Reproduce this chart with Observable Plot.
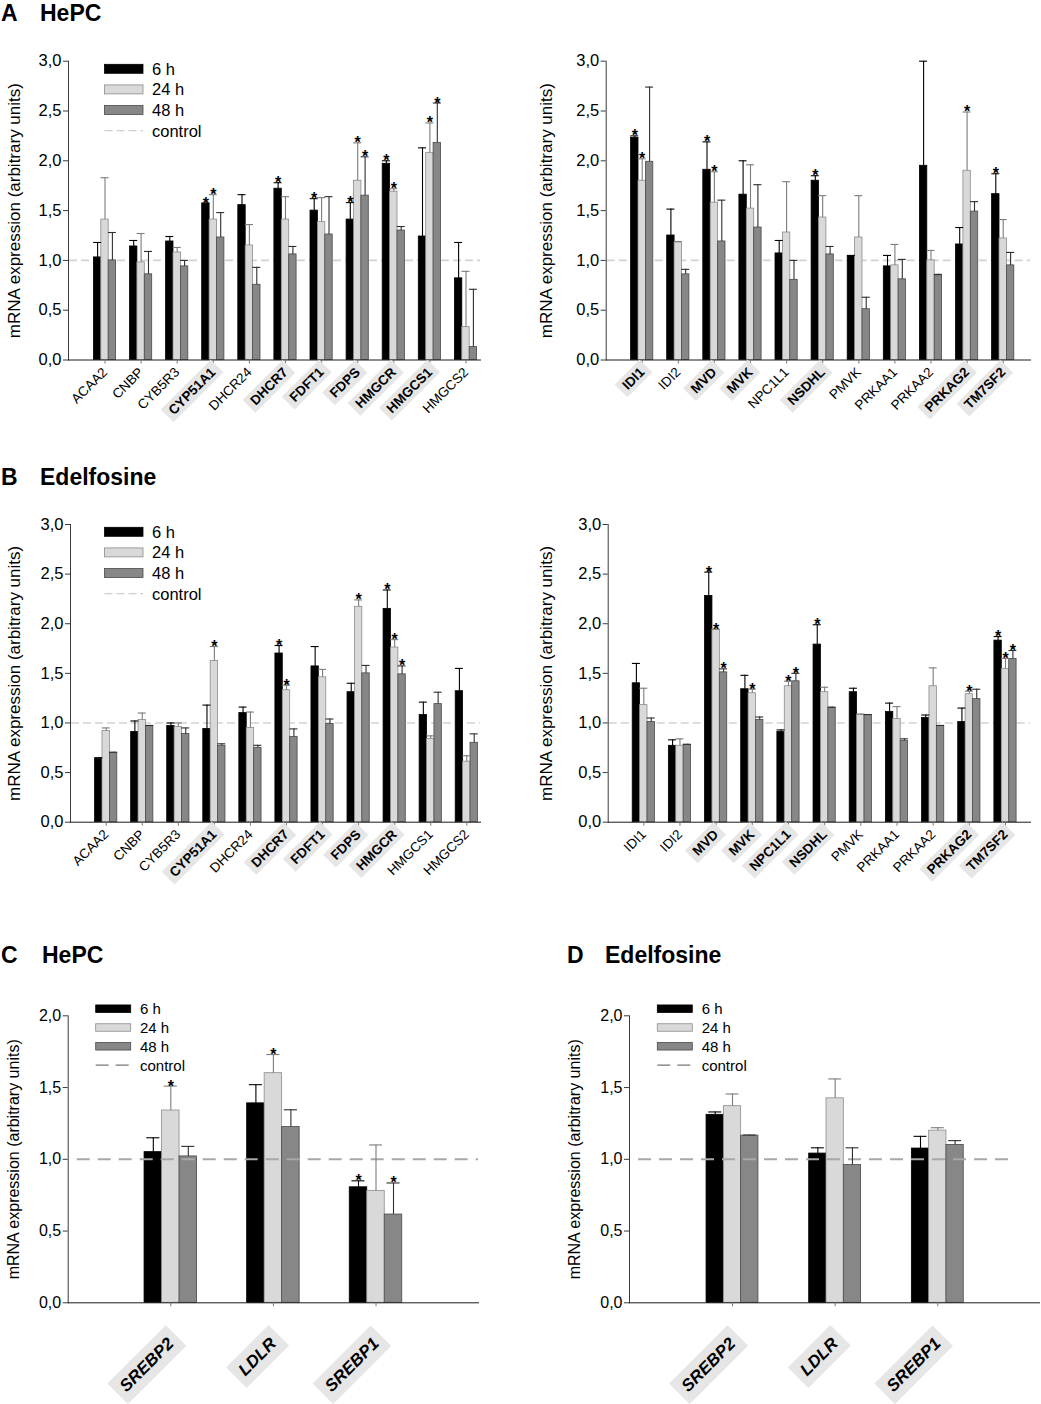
<!DOCTYPE html>
<html><head><meta charset="utf-8">
<script src="https://cdn.jsdelivr.net/npm/d3@7"></script>
<script src="https://cdn.jsdelivr.net/npm/@observablehq/plot@0.6"></script>
<style>
body{margin:0;background:#fff;font-family:"Liberation Sans",Arial,sans-serif}
#page{position:relative;width:1041px;height:1404px;overflow:hidden;background:#fff}
.ttl{position:absolute;font-weight:bold;font-size:23px;line-height:23px;white-space:nowrap;color:#000}
.pn{position:absolute}
</style></head><body><div id="page"></div>
<script>
// ---------- categories ----------
const genesSterolL = ["ACAA2","CNBP","CYB5R3","CYP51A1","DHCR24","DHCR7","FDFT1","FDPS","HMGCR","HMGCS1","HMGCS2"];
const genesSterolR = ["IDI1","IDI2","MVD","MVK","NPC1L1","NSDHL","PMVK","PRKAA1","PRKAA2","PRKAG2","TM7SF2"];
const genesSrebp = ["SREBP2","LDLR","SREBP1"];
const times = ["6 h","24 h","48 h"];

// highlighted (bold, boxed) gene labels
const boldAL = ["CYP51A1","DHCR7","FDFT1","FDPS","HMGCR","HMGCS1"];
const boldAR = ["IDI1","MVD","MVK","NSDHL","PRKAG2","TM7SF2"];
const boldBL = ["CYP51A1","DHCR7","FDFT1","FDPS","HMGCR"];
const boldBR = ["MVD","MVK","NPC1L1","NSDHL","PRKAG2","TM7SF2"];
const boldC = ["SREBP2","LDLR","SREBP1"];
const boldD = ["SREBP2","LDLR","SREBP1"];

// ---------- A left: HePC ----------
const AL_6h     = [1.03,1.14,1.19,1.57,1.555,1.72,1.50,1.41,1.97,1.24,0.82];
const AL_6h_sd  = [0.15,0.06,0.05,0.005,0.105,0.06,0.12,0.17,0.03,0.89,0.36];
const AL_24h    = [1.41,0.98,1.08,1.41,1.15,1.41,1.385,1.80,1.69,2.08,0.33];
const AL_24h_sd = [0.42,0.29,0.05,0.25,0.21,0.23,0.245,0.38,0.03,0.30,0.56];
const AL_48h    = [1.00,0.86,0.94,1.23,0.755,1.06,1.26,1.65,1.30,2.18,0.13];
const AL_48h_sd = [0.28,0.23,0.06,0.25,0.175,0.08,0.38,0.39,0.04,0.40,0.58];
const AL_sig6 = ["CYP51A1","DHCR7","FDFT1","FDPS","HMGCR"];
const AL_sig24 = ["CYP51A1","FDPS","HMGCR","HMGCS1"];
const AL_sig48 = ["FDPS","HMGCS1"];

// ---------- A right: HePC ----------
const AR_6h     = [2.23,1.25,1.91,1.66,1.07,1.80,1.04,0.94,1.95,1.16,1.665];
const AR_6h_sd  = [0.02,0.265,0.28,0.34,0.13,0.05,0.01,0.11,1.05,0.17,0.205];
const AR_24h    = [1.80,1.18,1.58,1.52,1.28,1.43,1.23,0.95,1.00,1.90,1.22];
const AR_24h_sd = [0.22,0.01,0.31,0.44,0.51,0.22,0.42,0.21,0.10,0.59,0.19];
const AR_48h    = [1.99,0.86,1.19,1.33,0.805,1.06,0.51,0.81,0.85,1.49,0.95];
const AR_48h_sd = [0.75,0.05,0.415,0.43,0.195,0.08,0.12,0.20,0.01,0.10,0.13];
const AR_sig6 = ["IDI1","MVD","NSDHL","TM7SF2"];
const AR_sig24 = ["IDI1","MVD","PRKAG2"];
const AR_sig48 = [];

// ---------- B left: Edelfosine ----------
const BL_6h     = [0.64,0.91,0.97,0.94,1.10,1.70,1.57,1.31,2.15,1.08,1.32];
const BL_6h_sd  = [0.01,0.11,0.03,0.24,0.06,0.08,0.20,0.09,0.19,0.13,0.23];
const BL_24h    = [0.92,1.03,0.96,1.625,0.95,1.33,1.46,2.17,1.76,0.84,0.61];
const BL_24h_sd = [0.03,0.07,0.04,0.145,0.16,0.05,0.08,0.07,0.08,0.03,0.06];
const BL_48h    = [0.70,0.97,0.89,0.77,0.75,0.86,0.99,1.50,1.49,1.19,0.80];
const BL_48h_sd = [0.005,0.005,0.06,0.02,0.025,0.08,0.05,0.08,0.085,0.12,0.09];
const BL_sig6 = ["DHCR7","HMGCR"];
const BL_sig24 = ["CYP51A1","DHCR7","FDPS","HMGCR"];
const BL_sig48 = ["HMGCR"];

// ---------- B right: Edelfosine ----------
const BR_6h     = [1.40,0.77,2.28,1.34,0.91,1.79,1.31,1.11,1.05,1.01,1.83];
const BR_6h_sd  = [0.20,0.06,0.24,0.14,0.02,0.20,0.04,0.09,0.03,0.14,0.04];
const BR_24h    = [1.18,0.77,1.94,1.30,1.37,1.31,1.08,1.04,1.37,1.29,1.545];
const BR_24h_sd = [0.17,0.07,0.005,0.04,0.05,0.05,0.01,0.125,0.185,0.03,0.105];
const BR_48h    = [1.01,0.78,1.51,1.03,1.42,1.15,1.08,0.82,0.97,1.24,1.645];
const BR_48h_sd = [0.04,0.005,0.035,0.03,0.08,0.01,0.005,0.02,0.005,0.10,0.085];
const BR_sig6 = ["MVD","NSDHL","TM7SF2"];
const BR_sig24 = ["MVD","MVK","NPC1L1","PRKAG2","TM7SF2"];
const BR_sig48 = ["MVD","NPC1L1","TM7SF2"];

// ---------- C: HePC ----------
const C_6h     = [1.05,1.39,0.805];
const C_6h_sd  = [0.10,0.13,0.045];
const C_24h    = [1.34,1.60,0.78];
const C_24h_sd = [0.17,0.13,0.32];
const C_48h    = [1.02,1.225,0.615];
const C_48h_sd = [0.07,0.12,0.22];
const C_sig6 = ["SREBP1"];
const C_sig24 = ["SREBP2","LDLR"];
const C_sig48 = ["SREBP1"];

// ---------- D: Edelfosine ----------
const D_6h     = [1.31,1.04,1.075];
const D_6h_sd  = [0.02,0.04,0.085];
const D_24h    = [1.37,1.425,1.20];
const D_24h_sd = [0.085,0.135,0.02];
const D_48h    = [1.165,0.96,1.10];
const D_48h_sd = [0.004,0.12,0.03];
const D_sig6 = [], D_sig24 = [], D_sig48 = [];

const ticks3 = [0,0.5,1,1.5,2,2.5,3];
const ticks2 = [0,0.5,1,1.5,2];
const yLabel = "mRNA expression (arbitrary units)";

// ---------- styles ----------
const FILL = ["#000000","#d9d9d9","#878787"];
const STROKE = ["#000000","#8c8c8c","#4a4a4a"];
const ERR = ["#000000","#7c7c7c","#2e2e2e"];
const FONT = "Liberation Sans, Arial, sans-serif";
const fmt = d => d.toFixed(1).replace(".", ",");
const page = document.getElementById("page");

function panel(cfg) {
  const {genes, bold, vals, sds, sigs, yMax, yTicks, left, top, width, height,
         mL, mT, mB, mR, c0, step, bw, big} = cfg;
  const rows = [];
  times.forEach((t, k) => genes.forEach((g, i) =>
    rows.push({gene: g, time: t, k, v: vals[k][i], sd: sds[k][i], sig: sigs[k].includes(g)})));
  const r0 = c0 - step / 2 - bw / 2;
  const r1 = r0 + step * genes.length + bw;
  const normal = genes.filter(g => !bold.includes(g));
  const ctrl = Plot.ruleY([1], big
    ? {stroke: "#a8a8a8", strokeWidth: 2, strokeDasharray: "13,8", insetLeft: 9, insetRight: cfg.ctrlInsetR || 0}
    : {stroke: "#d2d2d2", strokeWidth: 1.6, strokeDasharray: "8,4", insetLeft: 1});
  const marks = [];
  if (!big) marks.push(ctrl);
  times.forEach((t, k) => {
    const d = rows.filter(r => r.time === t);
    marks.push(Plot.barY(d, {x: "gene", y: "v", fill: FILL[k], stroke: STROKE[k], strokeWidth: 0.8, dx: (k - 1) * bw}));
  });
  if (big) marks.push(ctrl);
  const capIn = big ? 2.2 : -0.3;
  times.forEach((t, k) => {
    const d = rows.filter(r => r.time === t);
    const dx = (k - 1) * bw;
    marks.push(Plot.ruleX(d, {x: "gene", y1: "v", y2: r => r.v + r.sd, stroke: ERR[k], strokeWidth: 1.1, dx}));
    marks.push(Plot.tickY(d, {x: "gene", y: r => r.v + r.sd, stroke: ERR[k], strokeWidth: 1.1, dx, insetLeft: capIn, insetRight: capIn}));
    marks.push(Plot.text(d.filter(r => r.sig), {x: "gene", y: r => r.v + r.sd, text: () => "*", dx, dy: 5.5,
      lineAnchor: "bottom", fontSize: 16, fontWeight: "bold", fill: "#000"}));
  });
  marks.push(Plot.frame({anchor: "left", stroke: "#3a3a3a"}));
  marks.push(Plot.frame({anchor: "bottom", stroke: "#1a1a1a"}));
  marks.push(Plot.axisY({ticks: yTicks, tickFormat: fmt, tickSize: 5, tickPadding: 2, fontSize: cfg.yfs,
    stroke: "#3a3a3a", label: null}));
  marks.push(Plot.axisY({ticks: [], fontSize: cfg.lfs, label: yLabel, labelAnchor: "center", labelArrow: "none",
    labelOffset: cfg.labelOffset}));
  const xo = {tickRotate: -45, tickSize: 4, tickPadding: big ? 34 : 6, fontSize: big ? 17 : 13.5, stroke: "#777", label: null, fill: "#000"};
  if (normal.length) marks.push(Plot.axisX({...xo, ticks: normal}));
  marks.push(Plot.axisX({...xo, ticks: bold, fontWeight: "bold", ...(big ? {fontStyle: "italic"} : {})}));

  const svg = Plot.plot({
    width, height, marginLeft: mL, marginRight: mR, marginTop: mT, marginBottom: mB,
    style: {fontFamily: FONT, background: "transparent", overflow: "visible", color: "#000"},
    x: {type: "band", domain: genes, range: [r0, r1], paddingInner: 1 - bw / step, paddingOuter: 0.5, align: 0.5, round: false},
    y: {domain: [0, yMax]},
    marks
  });
  const div = document.createElement("div");
  div.className = "pn";
  div.style.left = left + "px"; div.style.top = top + "px";
  div.appendChild(svg);
  page.appendChild(div);

  // grey boxes behind highlighted labels
  d3.select(svg).selectAll('g[aria-label="x-axis tick label"]').each(function () {
    if (this.getAttribute("font-weight") !== "bold") return;
    const g = this;
    const texts = Array.from(g.querySelectorAll("text"));
    texts.forEach(t => {
      const b = t.getBBox();
      const padX = big ? 7 : 5, padY = big ? 5 : 1.5;
      const r = document.createElementNS("http://www.w3.org/2000/svg", "rect");
      r.setAttribute("x", b.x - padX); r.setAttribute("y", b.y - padY);
      r.setAttribute("width", b.width + 2 * padX); r.setAttribute("height", b.height + 2 * padY);
      if (t.getAttribute("transform")) r.setAttribute("transform", t.getAttribute("transform"));
      r.setAttribute("fill", "#e6e6e6"); r.setAttribute("stroke", "none");
      g.insertBefore(r, g.firstChild);
    });
  });

  // legend
  if (cfg.legend) {
    const L = cfg.legend;
    const lg = d3.select(svg).append("g").attr("font-family", FONT).attr("font-size", L.fs)
      .attr("text-anchor", "start").attr("fill", "#000");
    times.forEach((t, k) => {
      const cy = L.y0 + k * L.dy;
      lg.append("rect").attr("x", L.x).attr("y", cy - L.h / 2).attr("width", L.w).attr("height", L.h)
        .attr("fill", FILL[k]).attr("stroke", STROKE[k]).attr("stroke-width", 0.8);
      lg.append("text").attr("x", L.tx).attr("y", cy).attr("dy", "0.36em").text(t);
    });
    const cy = L.y0 + 3 * L.dy;
    lg.append("line").attr("x1", L.x).attr("x2", L.x + L.w).attr("y1", cy).attr("y2", cy)
      .attr("stroke", L.dashColor).attr("stroke-width", L.dashW).attr("stroke-dasharray", L.dash);
    lg.append("text").attr("x", L.tx).attr("y", cy).attr("dy", "0.36em").text("control");
  }
}

function title(letter, name, x1, x2, y) {
  const a = document.createElement("div"); a.className = "ttl"; a.style.left = x1 + "px"; a.style.top = y + "px"; a.textContent = letter;
  const b = document.createElement("div"); b.className = "ttl"; b.style.left = x2 + "px"; b.style.top = y + "px"; b.textContent = name;
  page.appendChild(a); page.appendChild(b);
}

title("A", "HePC", 1, 40, 1.5);
title("B", "Edelfosine", 1, 40, 465.5);
title("C", "HePC", 1, 42, 943.5);
title("D", "Edelfosine", 567, 605, 943.5);

const legAB = (y0) => ({x: 104.5, w: 38.5, h: 9, y0, dy: 20.6, tx: 152, fs: 16.5, dashColor: "#cfcfcf", dashW: 1.3, dash: "8,4"});
const legCD = (x, tx) => ({x, w: 35, h: 7.5, y0: 18.7, dy: 18.8, tx, fs: 15, dashColor: "#555", dashW: 1, dash: "13,7"});

panel({genes: genesSterolL, bold: boldAL, vals: [AL_6h, AL_24h, AL_48h], sds: [AL_6h_sd, AL_24h_sd, AL_48h_sd],
  sigs: [AL_sig6, AL_sig24, AL_sig48], yMax: 3, yTicks: ticks3, left: 0, top: 40, width: 490, height: 400,
  mL: 68, mT: 20.7, mB: 80.5, mR: 10, c0: 104.5, step: 36.1, bw: 7.4, labelOffset: 61, yfs: 16.5, lfs: 17, legend: legAB(28.8)});
panel({genes: genesSterolR, bold: boldAR, vals: [AR_6h, AR_24h, AR_48h], sds: [AR_6h_sd, AR_24h_sd, AR_48h_sd],
  sigs: [AR_sig6, AR_sig24, AR_sig48], yMax: 3, yTicks: ticks3, left: 530, top: 40, width: 511, height: 400,
  mL: 75.7, mT: 20.7, mB: 80.5, mR: 11, c0: 111.7, step: 36.1, bw: 7.4, labelOffset: 66, yfs: 16.5, lfs: 17});
panel({genes: genesSterolL, bold: boldBL, vals: [BL_6h, BL_24h, BL_48h], sds: [BL_6h_sd, BL_24h_sd, BL_48h_sd],
  sigs: [BL_sig6, BL_sig24, BL_sig48], yMax: 3, yTicks: ticks3, left: 0, top: 500, width: 490, height: 400,
  mL: 70, mT: 24, mB: 78.3, mR: 10, c0: 105.7, step: 36.06, bw: 7.4, labelOffset: 63, yfs: 16.5, lfs: 17, legend: legAB(31.8)});
panel({genes: genesSterolR, bold: boldBR, vals: [BR_6h, BR_24h, BR_48h], sds: [BR_6h_sd, BR_24h_sd, BR_48h_sd],
  sigs: [BR_sig6, BR_sig24, BR_sig48], yMax: 3, yTicks: ticks3, left: 530, top: 500, width: 511, height: 400,
  mL: 77.7, mT: 24, mB: 78.3, mR: 11, c0: 113.3, step: 36.17, bw: 7.4, labelOffset: 68, yfs: 16.5, lfs: 17});
panel({genes: genesSrebp, bold: boldC, vals: [C_6h, C_24h, C_48h], sds: [C_6h_sd, C_24h_sd, C_48h_sd],
  sigs: [C_sig6, C_sig24, C_sig48], yMax: 2, yTicks: ticks2, left: 0, top: 990, width: 490, height: 414,
  mL: 67.7, mT: 25.3, mB: 101.7, mR: 12, c0: 170.3, step: 102.6, bw: 17.5, big: true, labelOffset: 61, yfs: 16, lfs: 16,
  legend: legCD(95.7, 140)});
panel({genes: genesSrebp, bold: boldD, vals: [D_6h, D_24h, D_48h], sds: [D_6h_sd, D_24h_sd, D_48h_sd],
  sigs: [D_sig6, D_sig24, D_sig48], yMax: 2, yTicks: ticks2, left: 530, top: 990, width: 511, height: 414,
  mL: 99, mT: 25.3, mB: 101.7, mR: 2, c0: 202, step: 102.65, bw: 17.3, big: true, labelOffset: 61, yfs: 16, lfs: 16, ctrlInsetR: 24,
  legend: legCD(127.3, 171.7)});
</script></body></html>
